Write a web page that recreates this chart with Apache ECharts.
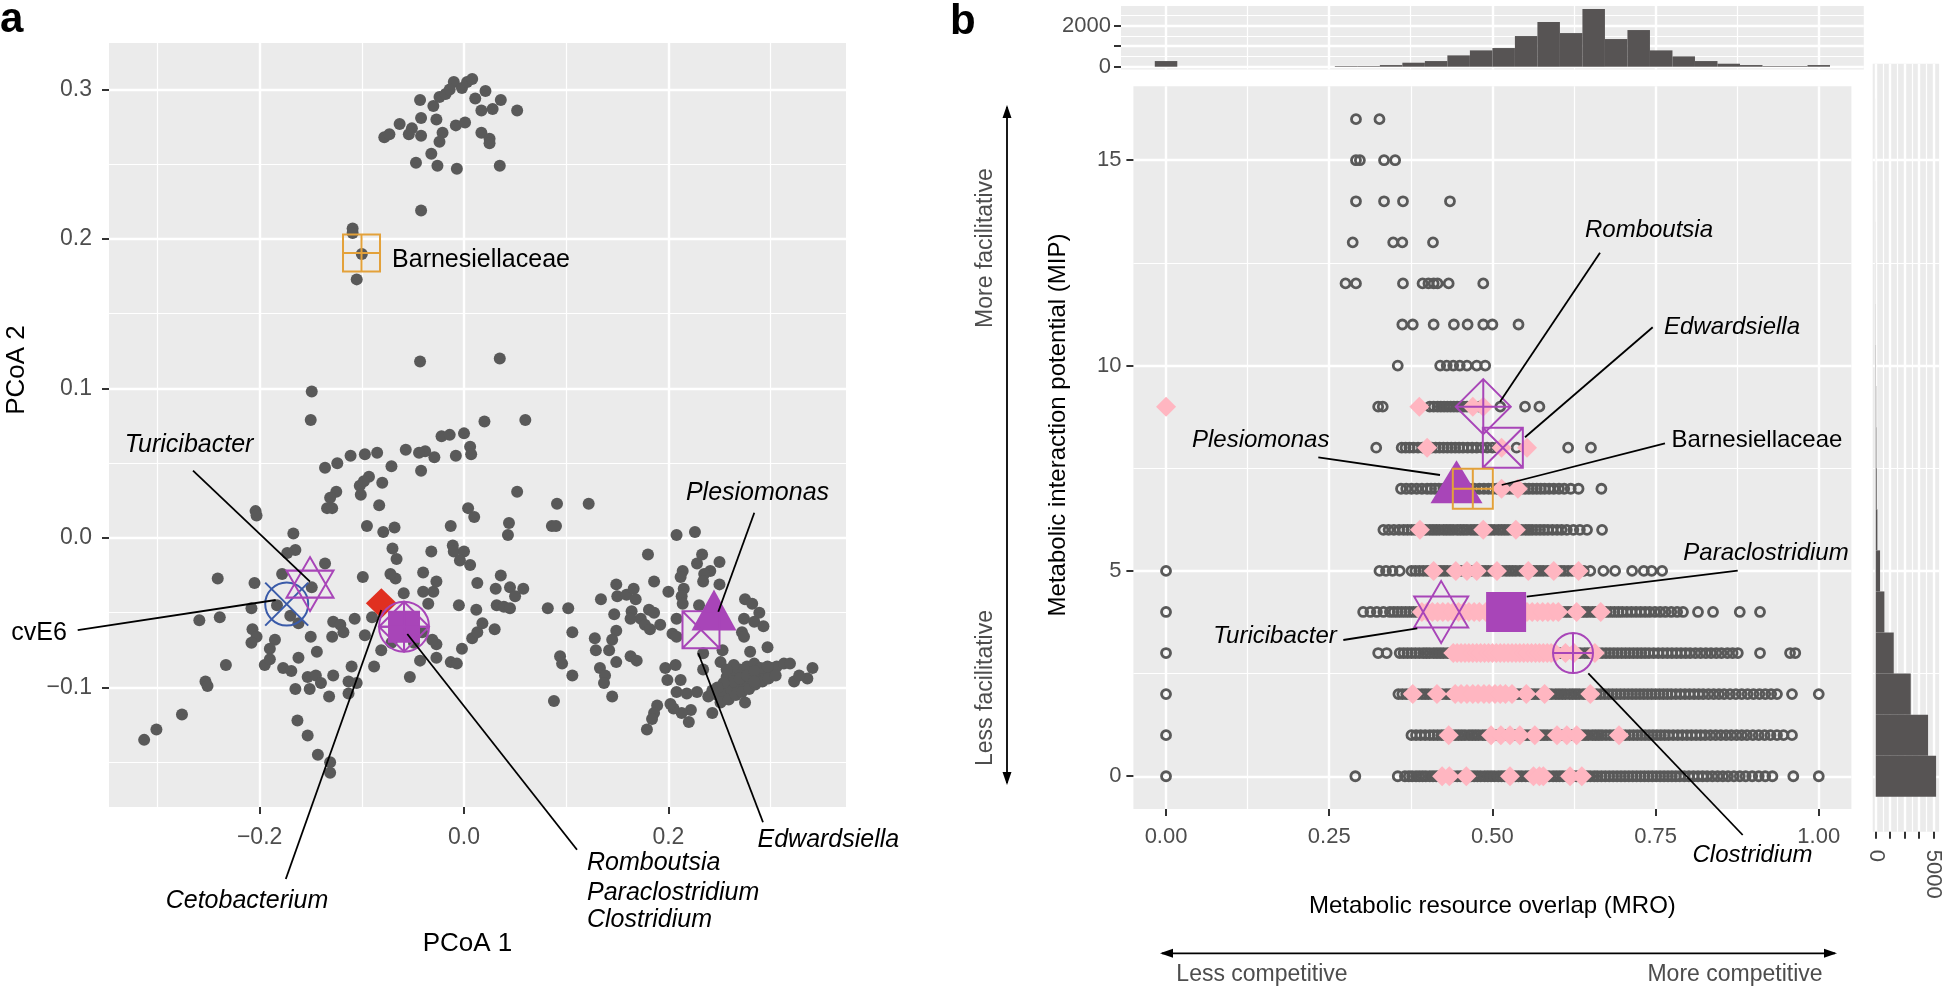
<!DOCTYPE html>
<html><head><meta charset="utf-8">
<script src="https://cdn.jsdelivr.net/npm/echarts@6/dist/echarts.min.js"></script>
<style>html,body{margin:0;padding:0;background:#fff}#c{width:1945px;height:988px}</style>
</head><body><div id="c"></div>
<script>
// ---------------- Panel a : PCoA of taxa ----------------
const pcoaPoints = [
[-0.043,0.293],[-0.078,0.268],[-0.073,0.270],[-0.063,0.277],[-0.051,0.274],[-0.054,0.270],[-0.042,0.269],[-0.042,0.281],[-0.030,0.289],[-0.024,0.295],
[-0.018,0.297],[-0.010,0.305],[-0.002,0.301],[0.003,0.305],[0.008,0.307],[-0.014,0.300],[-0.027,0.280],[-0.021,0.271],[-0.024,0.265],[-0.032,0.257],
[-0.008,0.276],[0.001,0.278],[0.011,0.294],[0.021,0.299],[0.017,0.286],[0.028,0.287],[0.036,0.293],[0.052,0.286],[0.017,0.271],[0.025,0.267],
[0.025,0.264],[-0.047,0.251],[-0.026,0.249],[-0.007,0.247],[0.035,0.249],[-0.042,0.219],[-0.109,0.207],[-0.109,0.204],[-0.100,0.190],[-0.105,0.173],
[-0.043,0.118],[0.035,0.120],
[-0.149,0.098],[-0.150,0.079],[0.020,0.078],[0.060,0.079],[-0.022,0.068],[-0.014,0.069],[0.000,0.070],[0.006,0.061],[0.007,0.056],[-0.008,0.055],
[-0.029,0.054],[-0.038,0.058],[-0.044,0.057],[-0.057,0.059],[-0.085,0.057],[-0.097,0.056],[-0.111,0.055],[-0.124,0.050],[-0.136,0.047],[-0.071,0.048],
[-0.042,0.045],[-0.093,0.041],[-0.102,0.035],[-0.098,0.038],[-0.080,0.037],[-0.101,0.029],[-0.125,0.031],[-0.131,0.027],[-0.134,0.020],[-0.129,0.020],
[-0.083,0.022],[0.052,0.031],[0.004,0.020],[0.010,0.014],[-0.204,0.018],[-0.203,0.015],[-0.095,0.008],[-0.079,0.004],[-0.068,0.007],[-0.013,0.008],
[0.044,0.010],[0.043,0.002],[-0.167,0.003],[-0.165,-0.008],[-0.173,-0.010],[-0.070,-0.007],[-0.066,-0.014],[-0.032,-0.009],[-0.011,-0.005],[-0.010,-0.009],
[0.000,-0.009],[-0.004,-0.015],[0.006,-0.018],[0.036,-0.025],[0.013,-0.030],[0.031,-0.034],[0.045,-0.033],[0.050,-0.039],[0.058,-0.034],[0.032,-0.045],
[0.039,-0.046],[0.045,-0.047],[0.012,-0.048],[-0.005,-0.045],[-0.035,-0.044],[-0.030,-0.036],[-0.040,-0.036],[-0.027,-0.029],[-0.040,-0.023],[-0.067,-0.027],
[-0.072,-0.024],[-0.059,-0.037],[-0.099,-0.026],[-0.136,-0.017],[-0.178,-0.024],[-0.205,-0.030],[-0.241,-0.027],[-0.208,-0.047],[-0.183,-0.045],[-0.170,-0.052],
[-0.162,-0.057],[-0.149,-0.033],[-0.259,-0.055],[-0.239,-0.053],[-0.207,-0.061],[-0.203,-0.066],[-0.208,-0.070],[-0.185,-0.068],[-0.190,-0.074],[-0.195,-0.085],
[-0.190,-0.081],[-0.177,-0.087],[-0.169,-0.089],[-0.233,-0.085],[-0.253,-0.096],[-0.251,-0.099],[-0.276,-0.118],[-0.301,-0.128],[-0.313,-0.135],[-0.162,-0.080],
[-0.150,-0.066],[-0.144,-0.076],[-0.153,-0.093],[-0.145,-0.092],[-0.140,-0.097],[-0.165,-0.101],[-0.151,-0.101],[-0.132,-0.106],[-0.128,-0.092],[-0.128,-0.056],
[-0.121,-0.058],[-0.129,-0.066],[-0.118,-0.063],[-0.107,-0.054],[-0.110,-0.086],[-0.113,-0.096],[-0.113,-0.104],[-0.105,-0.097],[-0.088,-0.086],[-0.081,-0.075],
[-0.097,-0.065],[-0.090,-0.053],[-0.163,-0.122],[-0.153,-0.132],[-0.143,-0.145],[-0.131,-0.150],[-0.131,-0.157],[-0.053,-0.093],[-0.043,-0.082],[-0.027,-0.080],
[-0.013,-0.083],[-0.007,-0.084],[-0.002,-0.074],[0.008,-0.067],[0.013,-0.063],[0.018,-0.057],[0.030,-0.061],[-0.027,-0.071],[-0.031,-0.068],[-0.041,-0.063],
[-0.071,-0.070],[-0.049,-0.070],
[0.091,0.023],[0.122,0.023],[0.086,0.008],[0.090,0.008],[0.208,0.002],[0.226,0.004],[0.180,-0.011],[0.233,-0.011],[0.228,-0.017],[0.250,-0.016],
[0.241,-0.022],[0.235,-0.024],[0.214,-0.022],[0.212,-0.026],[0.234,-0.029],[0.186,-0.029],[0.250,-0.031],[0.200,-0.036],[0.215,-0.034],[0.213,-0.039],
[0.214,-0.044],[0.230,-0.045],[0.149,-0.031],[0.150,-0.039],[0.159,-0.038],[0.166,-0.034],[0.168,-0.041],[0.134,-0.041],[0.082,-0.047],[0.102,-0.047],
[0.147,-0.051],[0.164,-0.049],[0.163,-0.054],[0.173,-0.054],[0.181,-0.048],[0.186,-0.050],[0.177,-0.058],[0.182,-0.061],[0.192,-0.058],[0.208,-0.054],
[0.204,-0.064],[0.208,-0.066],[0.106,-0.063],[0.128,-0.067],[0.149,-0.062],[0.145,-0.068],[0.142,-0.075],[0.129,-0.075],[0.149,-0.083],[0.094,-0.079],
[0.096,-0.084],[0.106,-0.092],[0.163,-0.079],[0.169,-0.082],[0.133,-0.087],[0.138,-0.092],[0.137,-0.097],[0.088,-0.109],[0.145,-0.106],[0.275,-0.041],
[0.282,-0.044],[0.289,-0.050],[0.274,-0.054],[0.284,-0.056],[0.293,-0.059],[0.272,-0.063],[0.274,-0.066],[0.297,-0.073],[0.280,-0.076],[0.253,-0.075],
[0.251,-0.083],[0.234,-0.077],[0.234,-0.088],[0.197,-0.087],[0.199,-0.095],[0.207,-0.085],[0.212,-0.095],[0.208,-0.103],[0.218,-0.104],[0.228,-0.103],
[0.239,-0.106],[0.248,-0.105],[0.254,-0.103],[0.261,-0.101],[0.267,-0.098],[0.274,-0.096],[0.280,-0.094],[0.287,-0.092],[0.293,-0.089],[0.300,-0.087],
[0.306,-0.086],[0.313,-0.084],[0.251,-0.110],[0.259,-0.108],[0.266,-0.105],[0.272,-0.103],[0.279,-0.101],[0.285,-0.098],[0.292,-0.096],[0.298,-0.094],
[0.305,-0.092],[0.257,-0.093],[0.264,-0.091],[0.270,-0.088],[0.277,-0.086],[0.284,-0.084],[0.290,-0.087],[0.264,-0.096],[0.270,-0.094],[0.277,-0.092],
[0.284,-0.089],[0.297,-0.086],[0.264,-0.085],[0.257,-0.088],[0.254,-0.097],[0.248,-0.100],[0.243,-0.102],[0.284,-0.096],[0.319,-0.084],[0.341,-0.087],
[0.336,-0.094],[0.323,-0.096],[0.328,-0.092],[0.275,-0.110],[0.243,-0.117],[0.220,-0.123],[0.222,-0.115],[0.213,-0.117],[0.205,-0.114],[0.202,-0.111],
[0.189,-0.112],[0.186,-0.117],[0.184,-0.121],[0.179,-0.128]
];

// highlighted taxa
const taxa      = ['cvE6','Turicibacter','Cetobacterium','Paraclostridium','Romboutsia','Clostridium','Plesiomonas','Edwardsiella','Barnesiellaceae'];
const taxaPCoA1 = [-0.1735,-0.1507,-0.0809,-0.0587,-0.0587,-0.0587,0.2446,0.2319,-0.1003];
const taxaPCoA2 = [-0.0442,-0.0308,-0.0437,-0.0593,-0.0593,-0.0593,-0.0529,-0.0613,0.1906];
const taxaMRO   = [null,0.4215,null,0.521,0.486,0.6235,0.445,0.516,0.470];
const taxaMIP   = [null,4,null,4,9,3,7,8,7];

// ---------------- Panel b : MRO vs MIP ----------------
// gray rings: ringMRO[k] = MRO values of pairs with MIP = k
const ringMRO = [
[0,0.290,0.355,0.366,0.372,0.377,0.383,0.388,0.393,0.398,0.404,0.409,0.414,0.419,0.425,0.430,0.435,0.440,0.446,0.451,0.456,0.461,0.467,0.472,0.477,0.482,0.488,0.493,0.498,0.503,0.509,0.514,0.519,0.524,0.530,0.535,0.540,0.545,0.551,0.556,0.561,0.566,0.572,0.577,0.582,0.587,0.593,0.598,0.603,0.608,0.614,0.619,0.624,0.629,0.635,0.640,0.645,0.650,0.656,0.661,0.667,0.673,0.679,0.685,0.691,0.697,0.703,0.709,0.715,0.721,0.727,0.733,0.739,0.745,0.751,0.757,0.763,0.769,0.775,0.781,0.787,0.794,0.801,0.808,0.815,0.822,0.829,0.837,0.845,0.853,0.861,0.870,0.879,0.888,0.898,0.908,0.918,0.929,0.961,1.000],
[0,0.376,0.383,0.390,0.397,0.404,0.410,0.416,0.422,0.427,0.432,0.437,0.443,0.448,0.453,0.458,0.464,0.469,0.474,0.479,0.485,0.490,0.495,0.500,0.506,0.511,0.516,0.521,0.527,0.532,0.537,0.542,0.548,0.553,0.558,0.563,0.569,0.574,0.579,0.584,0.590,0.595,0.600,0.605,0.611,0.616,0.621,0.626,0.632,0.637,0.642,0.647,0.653,0.658,0.663,0.668,0.674,0.680,0.686,0.692,0.698,0.704,0.710,0.716,0.722,0.728,0.734,0.740,0.746,0.752,0.758,0.764,0.770,0.777,0.784,0.791,0.798,0.805,0.812,0.819,0.826,0.834,0.842,0.850,0.858,0.866,0.874,0.882,0.890,0.899,0.908,0.917,0.926,0.936,0.946,0.959],
[0,0.356,0.362,0.368,0.374,0.380,0.386,0.392,0.397,0.402,0.408,0.413,0.418,0.423,0.429,0.434,0.439,0.444,0.450,0.455,0.460,0.465,0.471,0.476,0.481,0.486,0.492,0.497,0.502,0.507,0.513,0.518,0.523,0.528,0.534,0.539,0.544,0.549,0.555,0.560,0.565,0.570,0.576,0.581,0.586,0.591,0.597,0.602,0.607,0.612,0.618,0.623,0.628,0.633,0.639,0.644,0.649,0.654,0.660,0.666,0.672,0.678,0.684,0.690,0.696,0.702,0.708,0.714,0.720,0.726,0.732,0.738,0.744,0.750,0.756,0.762,0.768,0.774,0.781,0.788,0.795,0.802,0.809,0.816,0.823,0.831,0.839,0.847,0.855,0.864,0.873,0.882,0.891,0.900,0.909,0.918,0.927,0.936,0.959,1.000],
[0,0.325,0.338,0.358,0.364,0.370,0.376,0.382,0.388,0.394,0.399,0.404,0.410,0.415,0.420,0.425,0.431,0.436,0.441,0.446,0.452,0.457,0.462,0.467,0.473,0.478,0.483,0.488,0.494,0.499,0.504,0.509,0.515,0.520,0.525,0.530,0.536,0.541,0.546,0.551,0.557,0.562,0.567,0.572,0.578,0.583,0.588,0.593,0.599,0.604,0.609,0.614,0.620,0.625,0.630,0.635,0.641,0.646,0.651,0.656,0.662,0.668,0.674,0.680,0.686,0.692,0.698,0.704,0.710,0.716,0.722,0.728,0.734,0.740,0.747,0.754,0.761,0.768,0.775,0.782,0.789,0.796,0.803,0.811,0.819,0.827,0.835,0.843,0.851,0.860,0.868,0.876,0.910,0.956,0.964],
[0,0.302,0.313,0.323,0.333,0.343,0.349,0.355,0.361,0.367,0.373,0.379,0.385,0.390,0.395,0.401,0.406,0.411,0.416,0.422,0.427,0.432,0.437,0.443,0.448,0.453,0.458,0.464,0.469,0.474,0.479,0.485,0.490,0.495,0.500,0.506,0.511,0.516,0.521,0.527,0.532,0.537,0.542,0.548,0.553,0.558,0.563,0.569,0.574,0.579,0.584,0.590,0.595,0.600,0.605,0.611,0.616,0.621,0.626,0.632,0.637,0.642,0.647,0.653,0.658,0.663,0.669,0.675,0.681,0.687,0.693,0.699,0.706,0.713,0.720,0.727,0.734,0.741,0.749,0.757,0.765,0.774,0.783,0.792,0.815,0.838,0.879,0.910],
[0,0.327,0.337,0.347,0.358,0.376,0.382,0.388,0.394,0.400,0.405,0.410,0.416,0.421,0.426,0.431,0.437,0.442,0.447,0.452,0.458,0.463,0.468,0.473,0.479,0.484,0.489,0.494,0.500,0.505,0.510,0.515,0.521,0.526,0.531,0.536,0.542,0.547,0.552,0.557,0.563,0.568,0.573,0.578,0.584,0.589,0.594,0.599,0.605,0.610,0.616,0.622,0.628,0.634,0.640,0.650,0.670,0.688,0.714,0.732,0.744,0.760],
[0.333,0.341,0.349,0.357,0.364,0.370,0.376,0.382,0.388,0.393,0.398,0.404,0.409,0.414,0.419,0.425,0.430,0.435,0.440,0.446,0.451,0.456,0.461,0.467,0.472,0.477,0.482,0.488,0.493,0.498,0.503,0.509,0.514,0.519,0.524,0.530,0.535,0.540,0.545,0.551,0.556,0.561,0.567,0.573,0.579,0.585,0.592,0.599,0.606,0.614,0.624,0.634,0.645,0.668],
[0.360,0.368,0.376,0.384,0.392,0.400,0.406,0.412,0.418,0.425,0.432,0.440,0.448,0.456,0.464,0.472,0.480,0.487,0.494,0.500,0.507,0.514,0.520,0.526,0.532,0.538,0.544,0.550,0.556,0.562,0.568,0.574,0.580,0.587,0.594,0.602,0.610,0.620,0.632,0.667],
[0.322,0.361,0.367,0.373,0.379,0.386,0.393,0.400,0.407,0.413,0.419,0.425,0.431,0.437,0.443,0.449,0.455,0.462,0.469,0.476,0.484,0.492,0.500,0.508,0.537,0.616,0.651],
[0.325,0.332,0.404,0.410,0.416,0.421,0.426,0.431,0.436,0.441,0.446,0.451,0.456,0.461,0.470,0.480,0.512,0.550,0.572],
[0.355,0.420,0.430,0.440,0.450,0.461,0.476,0.489],
[0.362,0.378,0.410,0.441,0.462,0.486,0.500,0.540],
[0.275,0.291,0.363,0.393,0.402,0.410,0.416,0.433,0.486],
[0.286,0.348,0.362,0.409],
[0.291,0.334,0.363,0.435],
[0.291,0.297,0.334,0.351],
[0.291,0.327]
];
// pink diamonds: diamondMRO[k] = MRO values with MIP = k
const diamondMRO = [
[0.423,0.434,0.460,0.527,0.563,0.572,0.578,0.619,0.637],
[0.433,0.498,0.513,0.527,0.542,0.565,0.599,0.614,0.629,0.694],
[0.378,0.415,0.443,0.452,0.461,0.470,0.478,0.487,0.495,0.504,0.512,0.520,0.530,0.552,0.580,0.650],
[0.440,0.446,0.452,0.458,0.464,0.470,0.476,0.482,0.488,0.494,0.500,0.506,0.512,0.518,0.524,0.530,0.536,0.542,0.548,0.554,0.560,0.566,0.572,0.578,0.584,0.590,0.596,0.612,0.625,0.657],
[0.392,0.400,0.408,0.416,0.424,0.432,0.440,0.448,0.456,0.464,0.472,0.480,0.490,0.500,0.545,0.553,0.561,0.569,0.577,0.585,0.593,0.601,0.629,0.666],
[0.410,0.444,0.461,0.476,0.507,0.555,0.594,0.632],
[0.389,0.486,0.536],
[0.514,0.539],
[0.400,0.514,0.553],
[0.000,0.388,0.470,0.486]
];
// marginal histograms
const mroBinCounts = [276,0,0,0,0,0,0,0,30,30,80,195,276,553,797,911,1496,2179,1642,2822,1350,1789,797,504,276,146,81,30,30,81]; // 30 bins, width 1/29
const mipBinCounts = [5231,4537,3035,1561,751,376,145,87,58,40,25,15,10,8,5,3,2]; // MIP 0..16

// ---------------- styles ----------------
const FONT = '"Liberation Sans", Arial, Helvetica, sans-serif';
const PURPLE = '#A845B8', ORANGE = '#E3A13A', BLUE = '#3A5BA9', RED = '#E03020';
const GRAY = '#595959', PINK = '#FFB6C1', BG = '#EBEBEB';
const CIRC = 'M0,-1 C0.5523,-1 1,-0.5523 1,0 C1,0.5523 0.5523,1 0,1 C-0.5523,1 -1,0.5523 -1,0 C-1,-0.5523 -0.5523,-1 0,-1 Z';
const SYM = {
  circleX: 'path://' + CIRC + ' M-1,-1 L1,1 M1,-1 L-1,1',
  circlePlus: 'path://' + CIRC + ' M0,-1 L0,1 M-1,0 L1,0',
  star: 'path://M0,-1 L0.866,0.5 L-0.866,0.5 Z M0,1 L0.866,-0.5 L-0.866,-0.5 Z',
  diamondPlus: 'path://M0,-1 L1,0 L0,1 L-1,0 Z M0,-1 L0,1 M-1,0 L1,0',
  squarePlus: 'path://M-1,-1 L1,-1 L1,1 L-1,1 Z M0,-1 L0,1 M-1,0 L1,0',
  squareX: 'path://M-1,-1 L1,-1 L1,1 L-1,1 Z M-1,-1 L1,1 M1,-1 L-1,1'
};
const taxaStyle = {
  cvE6:{sym:SYM.circleX,col:BLUE,fill:false,a:43},
  Turicibacter:{sym:SYM.star,col:PURPLE,fill:false,a:[47,54],b:[54,62]},
  Cetobacterium:{sym:'diamond',col:RED,fill:true,a:[31,30]},
  Paraclostridium:{sym:'rect',col:PURPLE,fill:true,a:32,b:40},
  Romboutsia:{sym:SYM.diamondPlus,col:PURPLE,fill:false,a:50,b:55},
  Clostridium:{sym:SYM.circlePlus,col:PURPLE,fill:false,a:50,b:40},
  Plesiomonas:{sym:'triangle',col:PURPLE,fill:true,a:[45,41],b:[52,43],off:[0,-7]},
  Edwardsiella:{sym:SYM.squareX,col:PURPLE,fill:false,a:37,b:40},
  Barnesiellaceae:{sym:SYM.squarePlus,col:ORANGE,fill:false,a:37,b:40}
};

// ---------------- layout (pixels) ----------------
const grids = [
  {left:109, top:43, width:737, height:764, show:true, backgroundColor:BG, borderWidth:0},
  {left:55.2, top:43, width:790.8, height:764},
  {left:109, top:43, width:737, height:794},
  {left:1133.4, top:86.3, width:718, height:722.8, show:true, backgroundColor:BG, borderWidth:0},
  {left:1166, top:86.3, width:685.3, height:722.8},
  {left:1133.4, top:86.3, width:718, height:690},
  {left:1121, top:6, width:742.8, height:63.6, show:true, backgroundColor:BG, borderWidth:0},
  {left:1166, top:6, width:697.7, height:63.6},
  {left:1121, top:6, width:742.8, height:60.7},
  {left:1872.7, top:63.7, width:66.4, height:768, show:true, backgroundColor:BG, borderWidth:0},
  {left:1875.7, top:63.7, width:63.4, height:768},
  {left:1872.7, top:63.7, width:66.4, height:712.6}
];

const signed = (v, d) => { const n = Number(v); return (n < 0 ? '\u2212' : '') + Math.abs(n).toFixed(d); };
const hidden = (g, min, max) => ({gridIndex:g, type:'value', min, max, show:false});
const lines = (g, min, max, interval) => ({
  gridIndex:g, type:'value', min, max, interval, z:1,
  axisLine:{show:false, onZero:false}, axisTick:{show:false}, axisLabel:{show:false},
  splitLine:{show:true, showMinLine:min === 0, showMaxLine:false, lineStyle:{color:'#fff', width:2.4}},
  minorTick:{show:false, splitNumber:2},
  minorSplitLine:{show:true, lineStyle:{color:'#fff', width:1.2}}
});
const dataAxis = (g, min, max, ticks, labels, fmt, fs, margin) => ({
  gridIndex:g, type:'value', min, max, z:3,
  axisLine:{show:false, onZero:false}, splitLine:{show:false},
  axisTick:{show:true, customValues:ticks, length:7, lineStyle:{color:'#333', width:2}},
  axisLabel:{show:true, customValues:labels, formatter:fmt, color:'#4D4D4D', fontSize:fs, fontFamily:FONT, margin}
});

const xAxis = [
  dataAxis(0, -0.3474, 0.3738, [-0.2,0,0.2], [-0.2,0,0.2], v => signed(v, 1), 23, 19),
  lines(1, -0.4, 0.3738, 0.2),
  hidden(2, -0.3474, 0.3738),
  dataAxis(3, -0.05, 1.05, [0,0.25,0.5,0.75,1], [0,0.25,0.5,0.75,1], v => Number(v).toFixed(2), 22, 17),
  lines(4, 0, 1.05, 0.25),
  hidden(5, -0.05, 1.05),
  hidden(6, -0.069, 1.069),
  lines(7, 0, 1.069, 0.25),
  hidden(8, -0.069, 1.069),
  dataAxis(9, -262, 5493, [0,1250,2500,3750,5000], [0,5000], v => String(v), 22, 18),
  lines(10, 0, 5493, 1250),
  hidden(11, -262, 5493)
];
xAxis[9].axisLabel.rotate = -90;
const yAxis = [
  dataAxis(0, -0.1799, 0.3311, [-0.1,0,0.1,0.2,0.3], [-0.1,0,0.1,0.2,0.3], v => signed(v, 1), 23, 17),
  hidden(1, -0.1799, 0.3311),
  lines(2, -0.2, 0.3311, 0.1),
  dataAxis(3, -0.8, 16.8, [0,5,10,15], [0,5,10,15], v => String(v), 22, 12),
  hidden(4, -0.8, 16.8),
  lines(5, 0, 16.8, 5),
  dataAxis(6, -141, 2963, [0,1000,2000], [0,2000], v => String(v), 22, 10),
  hidden(7, -141, 2963),
  lines(8, 0, 2963, 1000),
  hidden(9, -1.35, 17.35),
  hidden(10, -1.35, 17.35),
  lines(11, 0, 17.35, 5)
];

// ---------------- series ----------------
const series = [];
series.push({type:'scatter', xAxisIndex:0, yAxisIndex:0, data:pcoaPoints, symbol:'circle', symbolSize:12,
  itemStyle:{color:GRAY, opacity:1}, z:3, silent:true});

const ringData = [], diamondData = [];
ringMRO.forEach((row, k) => row.forEach(m => ringData.push([m, k])));
diamondMRO.forEach((row, k) => row.forEach(m => diamondData.push([m, k])));
series.push({type:'scatter', xAxisIndex:3, yAxisIndex:3, data:ringData, symbol:'circle', symbolSize:9,
  itemStyle:{color:'rgba(0,0,0,0)', borderColor:GRAY, borderWidth:2.8, opacity:1}, z:3, silent:true, large:false});
series.push({type:'scatter', xAxisIndex:3, yAxisIndex:3, data:diamondData, symbol:'diamond', symbolSize:20,
  itemStyle:{color:PINK, opacity:1}, z:4, silent:true});

taxa.forEach((name, i) => {
  const st = taxaStyle[name];
  const item = st.fill ? {color:st.col, opacity:1} : {color:'rgba(0,0,0,0)', borderColor:st.col, borderWidth:2, opacity:1};
  series.push({type:'scatter', name, xAxisIndex:0, yAxisIndex:0, data:[[taxaPCoA1[i], taxaPCoA2[i]]],
    symbol:st.sym, symbolSize:st.a, symbolOffset:st.off || [0,0], itemStyle:item, z:6, silent:true});
  if (taxaMRO[i] !== null) {
    series.push({type:'scatter', name, xAxisIndex:3, yAxisIndex:3, data:[[taxaMRO[i], taxaMIP[i]]],
      symbol:st.sym, symbolSize:st.b, symbolOffset:st.off || [0,0], itemStyle:item, z:6, silent:true});
  }
});

const mroBinWidth = 1 / (mroBinCounts.length - 1);
series.push({type:'custom', xAxisIndex:6, yAxisIndex:6, silent:true, z:3,
  data: mroBinCounts.map((c, i) => [i * mroBinWidth, c]),
  renderItem: (p, api) => {
    const x = api.value(0), c = api.value(1);
    const a = api.coord([x - mroBinWidth / 2, 0]), b = api.coord([x + mroBinWidth / 2, c]);
    return {type:'rect', shape:{x:a[0], y:b[1], width:b[0]-a[0], height:a[1]-b[1]}, style:{fill:'#575454'}};
  }});
series.push({type:'custom', xAxisIndex:9, yAxisIndex:9, silent:true, z:3,
  data: mipBinCounts.map((c, i) => [c, i]),
  renderItem: (p, api) => {
    const c = api.value(0), m = api.value(1);
    const a = api.coord([0, m + 0.5]), b = api.coord([c, m - 0.5]);
    return {type:'rect', shape:{x:a[0], y:a[1], width:b[0]-a[0], height:b[1]-a[1]}, style:{fill:'#575454'}};
  }});

// ---------------- annotations ----------------
const g = [];
const txt = (text, x, y, o) => {
  o = o || {};
  const align = o.align || 'center';
  g.push({type:'text', x, y, rotation:o.rot || 0, z:100, silent:true,
    style:{text, x:0, y:0, fill:o.fill || '#000',
      font:(o.italic ? 'italic ' : '') + (o.bold ? 'bold ' : '') + (o.size || 24) + 'px ' + FONT,
      align, verticalAlign:'middle', textAlign:align, textVerticalAlign:'middle'}});
};
const seg = (x1, y1, x2, y2, w) => g.push({type:'line', z:100, silent:true, shape:{x1, y1, x2, y2}, style:{stroke:'#000', lineWidth:w || 1.8}});
const head = (pts) => g.push({type:'polygon', z:100, silent:true, shape:{points:pts}, style:{fill:'#000'}});

// panel a
txt('a', 0, 20.5, {bold:true, size:42, align:'left'});
txt('PCoA 1', 467.5, 944, {size:26});
txt('PCoA 2', 17, 370, {size:26, rot:Math.PI/2});
txt('Barnesiellaceae', 481, 260, {size:25});
txt('Turicibacter', 189, 445, {size:25, italic:true});
seg(193, 470.7, 310, 581.7);
txt('cvE6', 39, 633, {size:25});
seg(77.7, 630.2, 275.7, 600);
txt('Cetobacterium', 247, 901, {size:25, italic:true});
seg(285.8, 879, 381.3, 610);
txt('Romboutsia', 587, 863.5, {size:25, italic:true, align:'left'});
txt('Paraclostridium', 587, 892.7, {size:25, italic:true, align:'left'});
txt('Clostridium', 587, 920.2, {size:25, italic:true, align:'left'});
seg(577, 849.8, 407.3, 634);
txt('Plesiomonas', 757.5, 493.3, {size:25, italic:true});
seg(754.3, 512.7, 718.3, 611.7);
txt('Edwardsiella', 757.5, 840, {size:25, italic:true, align:'left'});
seg(763, 822.3, 698.3, 653.3);

// panel b
txt('b', 950, 22.5, {bold:true, size:42, align:'left'});
txt('Metabolic resource overlap (MRO)', 1492.4, 906.7, {size:24});
txt('Metabolic interaction potential (MIP)', 1058, 425, {size:24, rot:Math.PI/2});
txt('Romboutsia', 1649, 230, {italic:true});
seg(1600, 252.7, 1500, 401.7);
txt('Edwardsiella', 1732, 327, {italic:true});
seg(1652.7, 327.3, 1525, 437.3);
txt('Barnesiellaceae', 1757, 440);
seg(1665, 443.3, 1501.7, 485);
txt('Plesiomonas', 1260.7, 440, {italic:true});
seg(1318.3, 457.3, 1440, 475);
txt('Paraclostridium', 1766, 553, {italic:true});
seg(1737.7, 570.7, 1526.7, 596.7);
txt('Turicibacter', 1275, 636, {italic:true});
seg(1343.3, 640, 1417.3, 628.3);
txt('Clostridium', 1752.5, 855, {italic:true});
seg(1742.7, 835, 1588.3, 673.3);

// direction arrows
seg(1162, 953.3, 1835, 953.3, 1.8);
head([[1837, 953.3], [1824, 948.8], [1824, 957.8]]);
head([[1160, 953.3], [1173, 948.8], [1173, 957.8]]);
txt('Less competitive', 1262, 975, {size:23, fill:'#4D4D4D'});
txt('More competitive', 1735, 975, {size:23, fill:'#4D4D4D'});
seg(1007, 107, 1007, 783, 1.8);
head([[1007, 105], [1002.5, 118], [1011.5, 118]]);
head([[1007, 785], [1002.5, 772], [1011.5, 772]]);
txt('More facilitative', 986, 248, {size:23, fill:'#4D4D4D', rot:Math.PI/2});
txt('Less facilitative', 986, 688, {size:23, fill:'#4D4D4D', rot:Math.PI/2});

const chart = echarts.init(document.getElementById('c'), null, {renderer:'canvas'});
chart.setOption({
  animation:false, backgroundColor:'#fff',
  grid:grids, xAxis, yAxis, series, graphic:{elements:g}
});
</script></body></html>
